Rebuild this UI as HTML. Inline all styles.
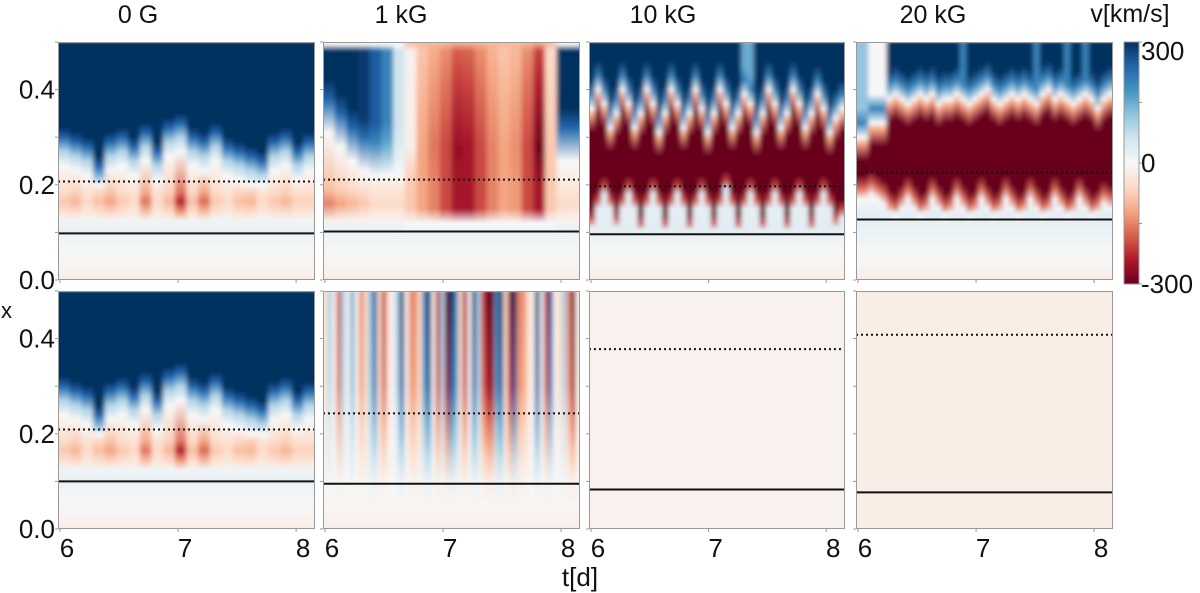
<!DOCTYPE html>
<html><head><meta charset="utf-8"><style>
html,body{margin:0;padding:0;background:#fff;}
svg{display:block;font-family:"Liberation Sans",sans-serif;}
</style></head><body>
<svg id="fig" width="1200" height="593" viewBox="0 0 1200 593" xmlns="http://www.w3.org/2000/svg">
<defs id="defs">
<filter id="blur" x="-5%" y="-5%" width="110%" height="110%"><feGaussianBlur stdDeviation="2.5 1.2"/></filter>
</defs>
<g id="panels"></g>
<g id="overlay"></g>
</svg>
<script>
// ---- data ----
const panelTitles = ["0 G","1 kG","10 kG","20 kG"];
const yTicks = [0,0.1,0.2,0.3,0.4,0.5];
const yTickLabels = ["0.0","","0.2","","0.4",""];
const xTicks = [6,7,8];
const xTickLabels = ["6","7","8"];
const cbTicks = [300,150,0,-150,-300];
const cbLabels = ["300","","0","","-300"];
// reference lines per panel (row1 c1..c4, row2 c1..c4)
const dottedX = [0.207,0.211,0.197,0.226,0.209,0.243,0.378,0.408];
const solidX  = [0.098,0.102,0.096,0.127,0.100,0.095,0.083,0.077];
// 0 G: boundary height of blue region and red band peak per time column (step 0.1 d)
const A_bound = [0.27,0.26,0.25,0.21,0.26,0.27,0.25,0.28,0.24,0.29,0.30,0.27,0.26,0.28,0.25,0.24,0.23,0.22,0.26,0.27,0.24,0.26];
const A_red   = [-80,-100,-60,-90,-120,-80,-60,-160,-60,-100,-230,-90,-170,-80,-60,-90,-100,-60,-80,-100,-70,-70];
// 1 kG top
const B_upper = [300,300,300,290,250,200,60,-20,-120,-160,-200,-260,-250,-200,-150,-120,-140,-200,-290,-80,300,300];
const B_bound = [0.33,0.30,0.27,0.25,0.24,0.24,0.24,0.22,0.20,0.17,0.15,0.13,0.15,0.16,0.18,0.17,0.17,0.15,0.14,0.20,0.27,0.27];
const B_low   = [-150,-120,-100,-80,-60,-60,-60,-80,-120,-150,-200,-250,-250,-200,-150,-120,-130,-200,-250,-80,-60,-60];
// 10 kG top (step 0.053 d)
const C_top = [0.36,0.40,0.37,0.32,0.35,0.40,0.37,0.32,0.35,0.40,0.37,0.31,0.35,0.40,0.37,0.32,0.35,0.40,0.36,0.31,0.35,0.40,0.37,0.32,0.35,0.39,0.37,0.31,0.35,0.40,0.37,0.32,0.35,0.40,0.37,0.32,0.35,0.39,0.36,0.31,0.34,0.36];
const C_bot = [0.13,0.17,0.20,0.17,0.13,0.17,0.20,0.17,0.12,0.17,0.20,0.17,0.12,0.17,0.20,0.17,0.12,0.17,0.20,0.17,0.12,0.17,0.21,0.17,0.12,0.17,0.20,0.17,0.12,0.17,0.20,0.17,0.12,0.17,0.20,0.17,0.12,0.17,0.20,0.17,0.13,0.15];
const C_upper = [300,300,300,300,300,300,300,300,300,300,300,300,300,300,300,300,300,300,300,300,300,300,300,300,300,150,150,300,300,300,300,300,300,300,300,300,300,300,300,300,300,300];
// 20 kG top
const D_top = [0.30,0.30,0.33,0.33,0.33,0.38,0.39,0.38,0.37,0.38,0.39,0.38,0.39,0.37,0.38,0.38,0.39,0.38,0.37,0.38,0.39,0.40,0.38,0.37,0.38,0.39,0.38,0.39,0.38,0.37,0.39,0.40,0.38,0.39,0.38,0.37,0.38,0.39,0.38,0.36,0.38,0.39];
const D_bot = [0.20,0.20,0.21,0.20,0.19,0.17,0.16,0.18,0.20,0.18,0.16,0.17,0.20,0.18,0.16,0.17,0.20,0.18,0.16,0.17,0.20,0.18,0.16,0.17,0.20,0.18,0.16,0.17,0.20,0.18,0.16,0.17,0.20,0.18,0.16,0.17,0.20,0.18,0.16,0.17,0.19,0.18];
const D_upper = [120,120,0,0,0,300,300,300,300,300,300,300,300,300,300,300,300,200,300,300,300,300,300,300,300,300,300,300,300,200,300,300,300,300,200,300,300,200,300,300,300,300];
// 1 kG bottom: stripe values
const E_stripe = [-40,100,-10,-200,100,-10,150,-10,-150,-60,120,250,-60,-220,-50,-10,100,300,-10,-150,-140,-60,200,300,-10,-250,100,-300,300,200,-60,-250,-10,280,100,-200,-300,-290,200,300,-60,-280,300,-150,-140,-60,-10,300,30,-220,250,-10,-60,100,-150,-300,-20];
// 10 kG, 20 kG bottom: uniform value
const F_value = [-12,-22];

// ---- layout ----
const colLeft=[58,323,589,856], colW=[257,257,256,257];
const rowTop=[42,291], rowH=[238,238];
const tMin=5.983, tMax=8.16;
const RdBu=["#67001f","#b2182b","#d6604d","#f4a582","#fddbc7","#f7f7f7","#d1e5f0","#92c5de","#4393c3","#2166ac","#053061"];
function hx(h){return [1,3,5].map(i=>parseInt(h.substr(i,2),16));}
const RdBuRGB=RdBu.map(hx);
function col(v){v=Math.max(-300,Math.min(300,v));const t=(v+300)/600*10;const i=Math.min(9,Math.floor(t));const f=t-i;const a=RdBuRGB[i],b=RdBuRGB[i+1];return "rgb("+a.map((c,k)=>Math.round(c+(b[k]-c)*f)).join(",")+")";}
function xs(c,t){return colLeft[c]+(t-tMin)/(tMax-tMin)*colW[c];}
function ys(r,x){return rowTop[r]+rowH[r]-x/0.5*rowH[r];}
const NS="http://www.w3.org/2000/svg";
const defs=document.getElementById('defs'), panels=document.getElementById('panels'), ov=document.getElementById('overlay');
function mk(tag,attrs,parent){const e=document.createElementNS(NS,tag);for(const k in attrs)e.setAttribute(k,attrs[k]);parent.appendChild(e);return e;}
let gid=0;
function drawColumns(r,c,n,stopsFn,name){
  const cp=mk('clipPath',{id:'cp'+r+c},defs);
  mk('rect',{x:colLeft[c],y:rowTop[r],width:colW[c],height:rowH[r]},cp);
  const outer=mk('g',{'clip-path':'url(#cp'+r+c+')'},panels);
  
  
  const g=mk('g',{filter:'url(#blur)'},outer);
  const step=(tMax-tMin)/n;
  for(let i=0;i<n;i++){
    let st=stopsFn(i).filter(s=>s[0]>=0&&s[0]<=0.5).sort((a,b)=>a[0]-b[0]);
    const id='g'+(gid++);
    const lg=mk('linearGradient',{id:id,x1:0,y1:1,x2:0,y2:0},defs);
    st.forEach(s=>mk('stop',{offset:(s[0]/0.5).toFixed(4),'stop-color':col(s[1])},lg));
    let x0=xs(c,tMin+i*step), x1=xs(c,tMin+(i+1)*step);
    if(i===0)x0-=10; if(i===n-1)x1+=10;
    const rc=mk('rect',{x:x0.toFixed(2),y:rowTop[r],width:(x1-x0+0.8).toFixed(2),height:rowH[r],fill:'url(#'+id+')'},g);
    
    
  }
}
const LOW=[[0,-45],[0.006,-18],[0.03,-6],[0.07,5],[0.09,15]];
function stopsA(i){const b=A_bound[i],r=A_red[i];return LOW.concat([[0.105,22],[0.125,10],[0.14,r*0.5],[0.165,r],[0.185,r*0.7],[Math.max(0.2,b-0.03),0],[b,90],[b+0.03,240],[b+0.05,300],[0.5,300]]);}
function stopsB(i){const u=B_upper[i],b=B_bound[i],l=B_low[i];
  if(u>0) return LOW.concat([[0.105,20],[0.125,-10],[0.16,l],[0.19,l*0.6],[Math.max(0.2,b-0.02),0],[b+0.05,u*0.8],[b+0.09,u],[0.48,u],[0.495,0],[0.5,-40]]);
  return LOW.concat([[0.105,15],[0.12,0],[0.15,l],[0.2,l],[0.28,u],[0.42,u*0.8],[0.48,u*0.7],[0.5,-100]]);}
function stopsC(i){const t=C_top[i],b=C_bot[i],u=C_upper[i];return LOW.concat([[0.105,35],[b-0.02,25],[b,-200],[b+0.02,-300],[t-0.05,-300],[t-0.015,-120],[t,0],[t+0.03,200],[t+0.06,u],[0.5,u]]);}
function stopsD(i){const t=D_top[i],b=D_bot[i],u=D_upper[i];return LOW.concat([[0.12,25],[0.14,30],[b-0.03,0],[b-0.005,-180],[b+0.02,-300],[t-0.05,-300],[t-0.015,-120],[t,0],[t+0.03,200],[t+0.06,u],[0.5,u]]);}
function stopsE(i){const v=E_stripe[i];return [[0,-45],[0.006,-15],[0.05,-5],[0.1,v*0.08],[0.15,v*0.3],[0.22,v*0.55],[0.3,v*0.85],[0.5,v]];}
drawColumns(0,0,A_bound.length,stopsA,'panel-0g-top');
drawColumns(0,1,B_upper.length,stopsB,'panel-1kg-top');
drawColumns(0,2,C_top.length,stopsC,'panel-10kg-top');
drawColumns(0,3,D_top.length,stopsD,'panel-20kg-top');
drawColumns(1,0,A_bound.length,stopsA,'panel-0g-bottom');
drawColumns(1,1,E_stripe.length,stopsE,'panel-1kg-bottom');
for(let k=0;k<2;k++){
  const r=mk('rect',{x:colLeft[2+k],y:rowTop[1],width:colW[2+k],height:rowH[1],fill:col(F_value[k])},panels);
  
  
}
// lines, frames, ticks
for(let r=0;r<2;r++)for(let c=0;c<4;c++){
  const p=r*4+c;
  const dl=mk('line',{x1:colLeft[c],x2:colLeft[c]+colW[c],y1:ys(r,dottedX[p]),y2:ys(r,dottedX[p]),stroke:'#111','stroke-width':2,'stroke-dasharray':'2 3'},ov);
  
  
  const sl=mk('line',{x1:colLeft[c],x2:colLeft[c]+colW[c],y1:ys(r,solidX[p]),y2:ys(r,solidX[p]),stroke:'#111','stroke-width':2},ov);
  
  
  const fr=mk('rect',{x:colLeft[c]+0.5,y:rowTop[r]+0.5,width:colW[c]-1,height:rowH[r]-1,fill:'none',stroke:'#999','stroke-width':1},ov);
  
  
  yTicks.forEach((v,j)=>{
    const tk=mk('line',{x1:colLeft[c]-3,x2:colLeft[c],y1:ys(r,v),y2:ys(r,v),stroke:'#999'},ov);
    
    
    if(c===0&&yTickLabels[j]){
      const tl=mk('text',{x:55,y:ys(r,v)+9,'text-anchor':'end','font-size':26,fill:'#111'},ov);
      tl.textContent=yTickLabels[j];
      
      
    }
  });
  xTicks.forEach((v,j)=>{
    const x=xs(c,v);
    const tk=mk('line',{x1:x,x2:x,y1:rowTop[r]+rowH[r],y2:rowTop[r]+rowH[r]+3,stroke:'#999'},ov);
    
    
    if(r===1){
      const tl=mk('text',{x:x+7,y:557,'text-anchor':'middle','font-size':26,fill:'#111'},ov);
      tl.textContent=xTickLabels[j];
      
      
    }
  });
}
const titleX=[138,401,663,933];
panelTitles.forEach((s,c)=>{
  const t=mk('text',{x:titleX[c],y:23,'text-anchor':'middle','font-size':25,fill:'#111'},ov);
  t.textContent=s;
  
  
});
// colorbar
const cbg=mk('linearGradient',{id:'cbgrad',x1:0,y1:1,x2:0,y2:0},defs);
RdBu.forEach((h,i)=>mk('stop',{offset:i/10,'stop-color':h},cbg));
const cb=mk('rect',{x:1124,y:42,width:15,height:242,fill:'url(#cbgrad)',stroke:'#999'},ov);


cbTicks.forEach((v,j)=>{
  const y=42+(300-v)/600*242;
  const tk=mk('line',{x1:1139,x2:1142,y1:y,y2:y,stroke:'#999'},ov);
  
  
  if(cbLabels[j]){
    const tl=mk('text',{x:1141,y:Math.min(Math.max(y+9,60),293),'font-size':26,fill:'#111'},ov);
    tl.textContent=cbLabels[j];
    
    
  }
});
</script>
<svg style="position:absolute;left:0;top:0" width="1200" height="593">
<text x="1130" y="22" text-anchor="middle" font-size="25" font-family="Liberation Sans, sans-serif" fill="#111">v[km/s]</text>
<text x="1" y="318" font-size="22" font-family="Liberation Sans, sans-serif" fill="#111">x</text>
<text x="580" y="586" text-anchor="middle" font-size="26" font-family="Liberation Sans, sans-serif" fill="#111">t[d]</text>
</svg>
</body></html>
